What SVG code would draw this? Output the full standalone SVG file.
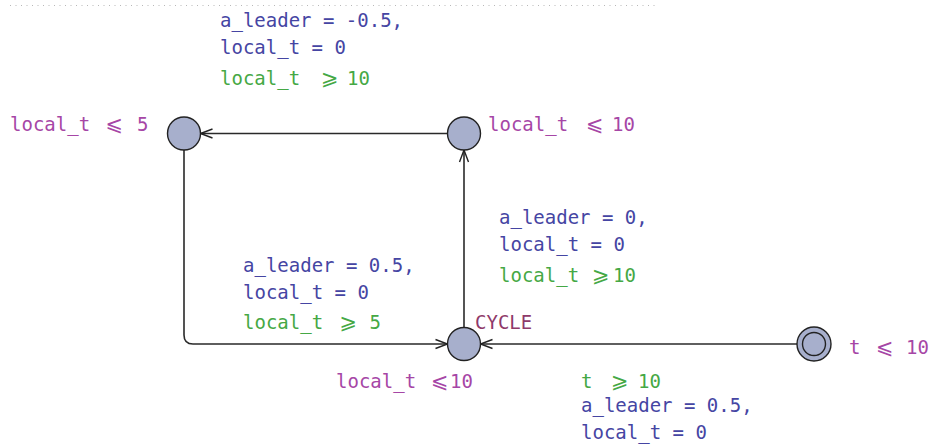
<svg xmlns="http://www.w3.org/2000/svg" width="934" height="447" viewBox="0 0 934 447">
<defs>
<style>
text{font-family:"DejaVu Sans Mono","DejaVu Sans",monospace;font-size:19px}
.op{font-family:"DejaVu Sans",sans-serif;font-size:21px}
.asg{fill:#4545a3}
.grd{fill:#45a845}
.inv{fill:#a646a6}
.nm{fill:#8f3a6a}
.loc{fill:#a7afcc;stroke:#222;stroke-width:1.4}
.edge{fill:none;stroke:#2a2a2a;stroke-width:1.6}
</style>
<marker id="arr" markerUnits="userSpaceOnUse" markerWidth="16" markerHeight="12" refX="13" refY="6" orient="auto">
<path d="M1,1.5 L13,6 L1,10.5" fill="none" stroke="#222" stroke-width="1.4"/>
</marker>
</defs>
<line x1="10" y1="5.5" x2="655" y2="5.5" stroke="#b8b8b8" stroke-width="1" stroke-dasharray="1 4.5"/>
<g id="connectors">
<path class="edge" d="M447.5,133.5 H200.5" marker-end="url(#arr)"/>
<path class="edge" d="M184,150 V335 Q184,344 193,344 H447.5" marker-end="url(#arr)"/>
<path class="edge" d="M464,327.5 V150" marker-end="url(#arr)"/>
<path class="edge" d="M797,344 H480.5" marker-end="url(#arr)"/>
</g>
<g id="labels">
<text class="asg" x="220" y="27">a_leader = -0.5,</text>
<text class="asg" x="220" y="54">local_t = 0</text>
<text class="grd" x="220" y="85">local_t<tspan class="op" x="321">⩾</tspan><tspan x="347">10</tspan></text>
<text class="asg" x="499" y="224">a_leader = 0,</text>
<text class="asg" x="499" y="251">local_t = 0</text>
<text class="grd" x="499" y="282">local_t<tspan class="op" x="592">⩾</tspan><tspan x="613">10</tspan></text>
<text class="asg" x="243" y="272">a_leader = 0.5,</text>
<text class="asg" x="243" y="299">local_t = 0</text>
<text class="grd" x="243" y="329">local_t<tspan class="op" x="339.5">⩾</tspan><tspan x="369.5">5</tspan></text>
<text class="grd" x="581" y="388">t<tspan class="op" x="611">⩾</tspan><tspan x="638">10</tspan></text>
<text class="asg" x="581" y="412">a_leader = 0.5,</text>
<text class="asg" x="581" y="439">local_t = 0</text>
</g>
<g id="node-l1">
<ellipse class="loc" cx="184" cy="133.5" rx="16.5" ry="16.5"/>
<text class="inv" x="10" y="131">local_t<tspan class="op" x="105.5">⩽</tspan><tspan x="137">5</tspan></text>
</g>
<g id="node-l2">
<ellipse class="loc" cx="464" cy="133.5" rx="16.5" ry="16.5"/>
<text class="inv" x="488" y="131">local_t<tspan class="op" x="586">⩽</tspan><tspan x="612">10</tspan></text>
</g>
<g id="node-cycle">
<ellipse class="loc" cx="464" cy="344" rx="16.5" ry="16.5"/>
<text class="nm" x="475" y="329">CYCLE</text>
<text class="inv" x="336" y="388">local_t<tspan class="op" x="431">⩽</tspan><tspan x="450">10</tspan></text>
</g>
<g id="node-init">
<circle class="loc" cx="814" cy="344" r="17"/>
<circle class="loc" cx="814" cy="344" r="11.5"/>
<text class="inv" x="849" y="354">t<tspan class="op" x="876">⩽</tspan><tspan x="906">10</tspan></text>
</g>
</svg>
